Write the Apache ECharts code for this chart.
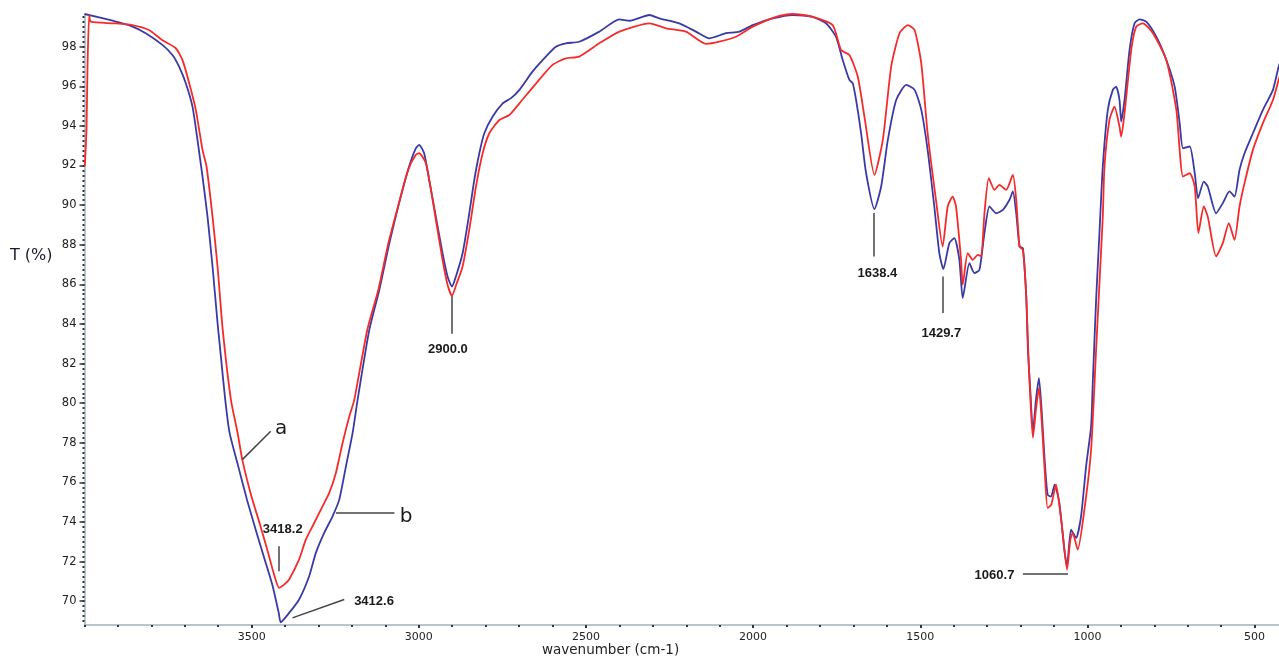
<!DOCTYPE html>
<html><head><meta charset="utf-8">
<script src="https://cdn.jsdelivr.net/npm/echarts@6/dist/echarts.min.js"></script>
<style>html,body{margin:0;padding:0;overflow:hidden;background:#fff}#c{width:1288px;height:662px}</style>
</head><body><div id="c"></div>
<script>
// ---- data ----
const wavenumberA = [3999,3994,3991,3986,3981,3911,3857,3807,3768,3727,3707,3687,3667,3647,3635,3617,3602,3587,3562,3542,3528,3502,3475,3451,3433,3418,3403,3388,3358,3338,3313,3288,3268,3248,3228,3208,3193,3154,3121,3091,3061,3032,3009,2999,2979,2966,2948,2929,2914,2901,2888,2869,2849,2829,2809,2789,2759,2729,2699,2649,2600,2560,2520,2460,2400,2310,2260,2201,2141,2101,2051,2001,1931,1882,1822,1762,1737,1712,1687,1667,1637,1612,1587,1562,1537,1517,1497,1478,1453,1433,1418,1403,1393,1378,1373,1358,1343,1328,1318,1308,1295,1278,1263,1243,1223,1213,1203,1193,1183,1176,1169,1163,1154,1145,1137,1128,1119,1108,1094,1084,1074,1061,1051,1044,1029,1009,989,974,964,954,949,934,919,904,899,889,869,854,834,804,764,734,714,694,679,668,652,640,615,595,577,560,545,530,505,475,445,428,415];
const transmittanceA = [91.98,93.80,96.99,99.60,99.26,99.18,99.09,98.84,98.34,97.92,97.33,96.17,94.81,92.79,91.95,89.42,86.90,83.79,80.17,78.50,77.15,75.38,73.87,72.46,71.35,70.68,70.84,71.10,72.11,73.11,73.95,74.79,75.47,76.48,77.99,79.33,80.17,83.71,85.73,88.08,90.01,91.78,92.54,92.62,92.12,91.02,89.16,87.24,85.98,85.42,85.98,86.90,88.76,90.94,92.62,93.63,94.30,94.55,95.14,96.15,97.08,97.41,97.50,98.17,98.76,99.18,98.93,98.76,98.14,98.25,98.50,99.01,99.51,99.65,99.51,99.09,97.83,97.58,96.49,94.47,91.53,93.29,96.99,98.68,99.09,98.84,97.16,93.63,90.27,87.91,89.93,90.43,89.93,87.24,85.98,87.58,87.24,87.49,87.41,89.59,91.36,90.77,91.02,90.77,91.53,90.27,87.91,87.74,85.39,82.19,79.67,78.26,79.67,80.77,79.17,76.65,74.71,74.88,75.89,74.88,73.45,71.60,73.11,73.45,72.61,74.63,77.65,82.70,86.06,89.42,91.95,94.30,94.97,93.96,93.46,94.64,97.83,99.01,99.18,98.68,97.33,94.81,91.44,91.61,90.94,88.59,89.93,89.42,87.41,88.08,89.09,88.25,89.93,91.11,92.79,94.14,95.31,96.32,97.0];

const wavenumberB = [4000,3916,3867,3817,3767,3737,3717,3697,3677,3662,3647,3632,3617,3602,3591,3579,3566,3540,3514,3485,3461,3437,3419,3413,3388,3358,3328,3308,3283,3258,3238,3218,3198,3183,3148,3118,3088,3059,3029,3009,2999,2984,2969,2949,2929,2914,2901,2889,2869,2849,2834,2819,2804,2779,2749,2724,2699,2660,2620,2590,2560,2520,2460,2400,2370,2310,2281,2221,2171,2131,2081,2041,2001,1941,1882,1822,1782,1752,1732,1712,1702,1692,1677,1662,1637,1617,1597,1572,1542,1517,1497,1478,1458,1443,1431,1413,1398,1383,1373,1353,1338,1323,1308,1293,1273,1253,1233,1223,1213,1203,1193,1183,1178,1171,1163,1154,1145,1137,1128,1119,1109,1098,1084,1069,1061,1049,1034,1019,1004,989,984,974,964,954,939,924,914,904,899,889,874,859,844,824,794,764,739,724,714,694,679,669,652,640,615,595,575,560,545,530,505,475,445,428,415];
const transmittanceB = [99.65,99.31,99.09,98.68,98.09,97.58,96.99,96.15,94.97,93.29,91.44,89.42,86.90,84.05,82.19,80.17,78.50,76.81,75.13,73.45,72.11,70.76,69.41,68.94,69.41,70.09,71.26,72.44,73.45,74.29,75.13,76.81,78.50,80.18,83.71,85.73,88.08,90.10,91.95,92.87,93.04,92.62,91.27,89.42,87.57,86.40,85.89,86.40,87.57,89.59,91.27,92.62,93.63,94.47,95.14,95.40,95.82,96.74,97.50,98.00,98.17,98.25,98.76,99.38,99.31,99.60,99.43,99.18,98.76,98.42,98.68,98.76,99.09,99.43,99.60,99.51,99.18,98.50,97.33,96.32,96.15,95.31,93.63,91.61,89.80,90.94,93.29,95.31,96.07,95.82,94.81,92.79,89.93,87.58,86.77,88.08,88.33,87.24,85.31,87.07,86.57,86.73,88.59,89.93,89.59,89.76,90.27,90.69,89.59,87.91,87.83,85.39,82.70,80.68,78.56,80.17,81.27,79.67,77.15,75.38,75.28,75.89,74.96,72.61,71.77,73.62,73.20,74.29,76.81,78.83,81.02,85.22,88.59,91.95,94.81,95.82,95.98,95.31,94.22,95.31,97.83,99.18,99.38,99.26,98.50,97.33,95.98,94.14,92.87,92.96,91.61,90.35,91.19,90.94,89.59,90.10,90.69,90.43,91.78,92.62,93.63,94.81,95.82,96.99,97.6];

const xTickLabels = [3500,3000,2500,2000,1500,1000,500];
const yTickLabels = [70,72,74,76,78,80,82,84,86,88,90,92,94,96,98];

// annotations (data coordinates)
const annotationTexts   = ['3418.2','3412.6','a','b','2900.0','1638.4','1429.7','1060.7'];
const annotationAnchors = [[3407,73.62],[3134,70.0],[3412,78.71],[3038,74.27],[2913,82.70],[1628,86.57],[1437,83.54],[1278,71.30]];
const leaderLines = [
  [[3418,72.78],[3418,71.51]],
  [[3378,69.16],[3223,70.09]],
  [[3528,77.15],[3443,78.58]],
  [[3248,74.46],[3073,74.46]],
  [[2901,85.40],[2901,83.50]],
  [[1638,89.60],[1638,87.41]],
  [[1433,86.40],[1433,84.55]],
  [[1193,71.40],[1058,71.40]]
];

// ---- build ----
const zip = (xs, ys) => xs.map((x, i) => [x, ys[i]]);
const minorX = []; for (let v = 400; v <= 4000; v += 100) minorX.push(v);
const minorY = []; for (let v = 69; v <= 99.5; v += 0.25) minorY.push(v);

const axisLineColor = '#9fb2bf';
const tickColor = '#333';
const FONT = 'DejaVu Sans';
const plain = v => String(v);

const chart = echarts.init(document.getElementById('c'), null, {renderer: 'canvas'});
chart.setOption({
  animation: false,
  backgroundColor: '#fff',
  grid: {left: 84.5, right: 0, top: 14, bottom: 37, outerBoundsMode: 'none', containLabel: false},
  xAxis: [
    {type: 'value', min: 400, max: 4000, inverse: true, position: 'bottom',
     axisLine: {lineStyle: {color: axisLineColor, width: 1.5}},
     axisTick: {customValues: xTickLabels, length: 3, lineStyle: {color: tickColor, width: 2}},
     axisLabel: {customValues: xTickLabels, formatter: plain, color: '#222', fontSize: 11, fontFamily: FONT, margin: 7},
     splitLine: {show: false}},
    {type: 'value', min: 400, max: 4000, inverse: true, position: 'bottom',
     axisLine: {show: false},
     axisTick: {customValues: minorX, length: 2, lineStyle: {color: tickColor, width: 2}},
     axisLabel: {show: false}, splitLine: {show: false}}
  ],
  yAxis: [
    {type: 'value', min: 68.8, max: 99.65, position: 'left',
     axisLine: {show: true, lineStyle: {color: axisLineColor, width: 1.5}},
     axisTick: {show: true, customValues: yTickLabels, length: 5, lineStyle: {color: tickColor, width: 1.5}},
     axisLabel: {customValues: yTickLabels, formatter: plain, color: '#222', fontSize: 11.5, fontFamily: FONT, margin: 8},
     splitLine: {show: false}},
    {type: 'value', min: 68.8, max: 99.65, position: 'left', offset: 0,
     axisLine: {show: false},
     axisTick: {show: true, customValues: minorY, length: 2, lineStyle: {color: tickColor, width: 2}},
     axisLabel: {show: false}, splitLine: {show: false}}
  ],
  graphic: [
    {type: 'text', left: 10, top: 248, style: {text: 'T (%)', font: '16px "DejaVu Sans"', fill: '#1b1b30'}},
    {type: 'text', left: 542, top: 643, style: {text: 'wavenumber (cm-1)', font: '13.5px "DejaVu Sans"', fill: '#222'}}
  ],
  series: [
    {name: 'b', type: 'line', xAxisIndex: 0, yAxisIndex: 0, data: zip(wavenumberB, transmittanceB),
     showSymbol: false, smooth: 0.2, lineStyle: {color: '#3a3aa6', width: 1.8}, z: 2},
    {name: 'a', type: 'line', xAxisIndex: 0, yAxisIndex: 0, data: zip(wavenumberA, transmittanceA),
     showSymbol: false, smooth: 0.2, lineStyle: {color: '#f52b2b', width: 1.8}, z: 3,
     markLine: {silent: true, symbol: ['none', 'none'], animation: false,
       lineStyle: {color: '#444', width: 1.5, type: 'solid'}, label: {show: false},
       data: leaderLines.map(l => [{coord: l[0]}, {coord: l[1]}])},
     markPoint: {silent: true, animation: false, symbol: 'circle', symbolSize: 1,
       itemStyle: {color: 'rgba(0,0,0,0)'},
       data: annotationTexts.map((t, i) => ({
         name: t, coord: annotationAnchors[i],
         label: {show: true, position: 'inside', formatter: t, color: '#1a1a1a',
           fontFamily: t.length === 1 ? FONT : 'Liberation Sans',
           fontWeight: t.length === 1 ? 'normal' : 'bold',
           fontSize: t.length === 1 ? 20 : 13}
       }))}}
  ]
});
</script></body></html>
